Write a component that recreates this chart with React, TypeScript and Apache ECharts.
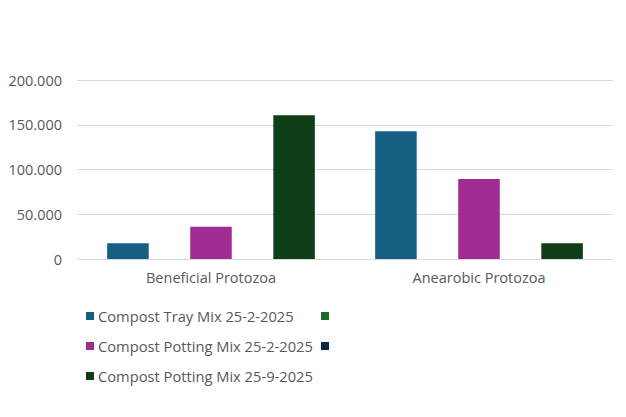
import React, { useEffect, useRef } from "react";
import * as echarts from "echarts";

const categories = ["Beneficial Protozoa", "Anearobic Protozoa"];
const seriesNames = [
  "Compost Tray Mix 25-2-2025",
  "Compost Potting Mix 25-2-2025",
  "Compost Potting Mix 25-9-2025",
];
const trayMix252 = [17500, 142700];
const pottingMix252 = [36000, 89400];
const pottingMix259 = [160500, 17500];
const extraLegendNames = [" ", "  "];
const yTicks = { min: 0, max: 200000, interval: 50000 };

const barColors = ["#156082", "#A02B93", "#0F3F17"];
const extraColors = ["#196B24", "#0E2841"];

const FONT = "'Open Sans', sans-serif";
const TEXT_COLOR = "#595959";

function fmt(v: number): string {
  const s = Math.round(v).toString();
  return s.replace(/\B(?=(\d{3})+(?!\d))/g, ".");
}

export default function App() {
  const ref = useRef<HTMLDivElement>(null);
  useEffect(() => {
    document.body.style.margin = "0";
    if (!ref.current) return;
    const chart = echarts.init(ref.current, undefined, { renderer: "svg" });
    const values = [trayMix252, pottingMix252, pottingMix259];
    chart.setOption({
      animation: false,
      backgroundColor: "#ffffff",
      textStyle: { fontFamily: FONT },
      grid: { left: 77, right: 13, top: 80, bottom: 158, containLabel: false },
      xAxis: [
        {
          type: "category",
          data: categories,
          axisLine: { lineStyle: { color: "#d9d9d9", width: 1 } },
          axisTick: { show: false },
          axisLabel: { color: TEXT_COLOR, fontSize: 14.5, fontFamily: FONT, margin: 11 },
        },
        { type: "category", data: categories, show: false, gridIndex: 0 },
      ],
      yAxis: {
        type: "value",
        min: yTicks.min,
        max: yTicks.max,
        interval: yTicks.interval,
        axisLine: { show: false },
        axisTick: { show: false },
        splitLine: { lineStyle: { color: "#d9d9d9", width: 1 } },
        axisLabel: {
          color: TEXT_COLOR,
          fontSize: 14.5,
          fontFamily: FONT,
          margin: 15,
          formatter: (v: number) => fmt(v),
        },
      },
      legend: [
        {
          orient: "vertical",
          left: 81,
          top: 301,
          icon: "rect",
          itemWidth: 8,
          itemHeight: 8,
          itemGap: 10,
          data: seriesNames,
          textStyle: { color: TEXT_COLOR, fontSize: 14.7, fontFamily: FONT, lineHeight: 20, padding: [0, 0, 0, -1] },
          selectedMode: false,
        },
        {
          orient: "vertical",
          left: 316,
          top: 301,
          icon: "rect",
          itemWidth: 8,
          itemHeight: 8,
          itemGap: 10,
          data: extraLegendNames,
          textStyle: { color: TEXT_COLOR, fontSize: 14.7, fontFamily: FONT, lineHeight: 20 },
          selectedMode: false,
        },
      ],
      series: [
        ...seriesNames.map((name, i) => ({
          type: "bar",
          name,
          data: values[i],
          barWidth: "15.5%",
          barGap: "100%",
          itemStyle: { color: barColors[i] },
        })),
        ...extraLegendNames.map((name, i) => ({
          type: "bar",
          name,
          xAxisIndex: 1,
          data: [],
          itemStyle: { color: extraColors[i] },
        })),
      ],
    });
    return () => chart.dispose();
  }, []);
  return <div ref={ref} style={{ width: 626, height: 417 }} />;
}
